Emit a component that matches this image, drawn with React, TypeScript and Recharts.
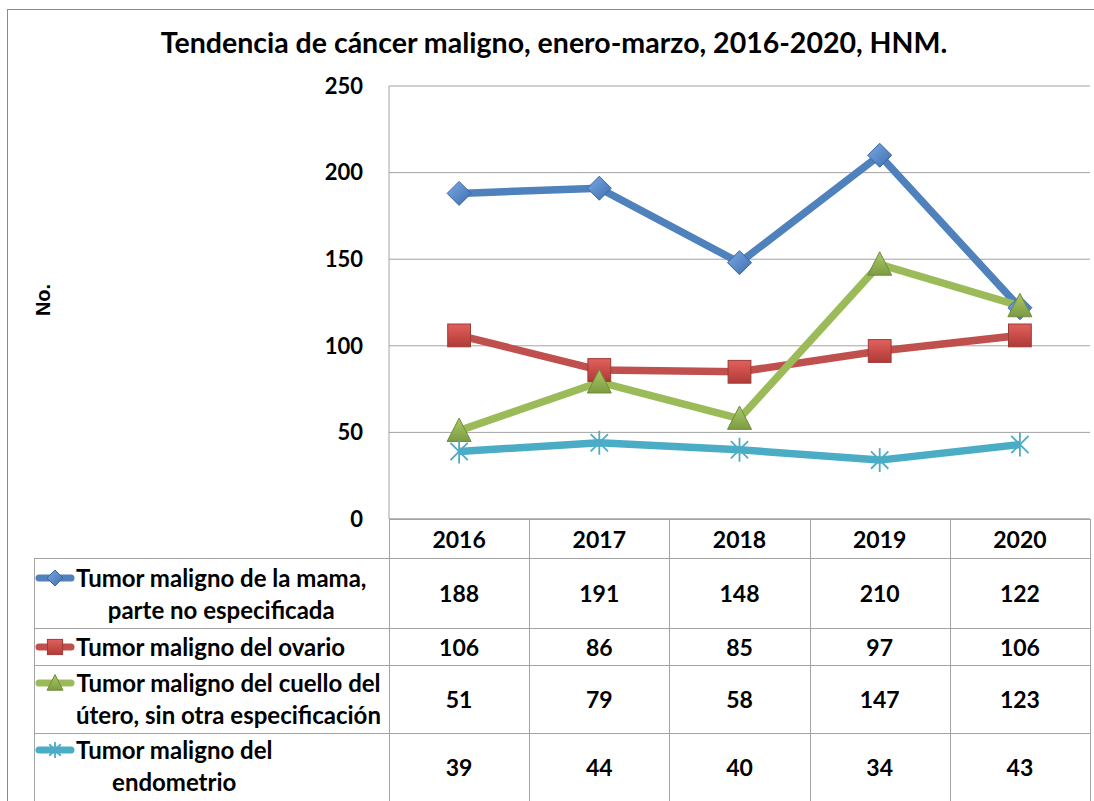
import React from 'react';
import { LineChart, Line, XAxis, YAxis, CartesianGrid } from 'recharts';

const years = ['2016', '2017', '2018', '2019', '2020'];
const mama = [188, 191, 148, 210, 122];
const ovario = [106, 86, 85, 97, 106];
const cuello = [51, 79, 58, 147, 123];
const endometrio = [39, 44, 40, 34, 43];
const yTicks = [0, 50, 100, 150, 200, 250];

const series = [
  { key: 'mama', values: mama, color: '#4f81bd', marker: 'diamond', label: ['Tumor maligno de la mama,', 'parte no especificada'] },
  { key: 'ovario', values: ovario, color: '#c0504d', marker: 'square', label: ['Tumor maligno del ovario'] },
  { key: 'cuello', values: cuello, color: '#9bbb59', marker: 'triangle', label: ['Tumor maligno del cuello del', 'útero, sin otra especificación'] },
  { key: 'endometrio', values: endometrio, color: '#4bacc6', marker: 'star', label: ['Tumor maligno del', 'endometrio'] },
];

const data = years.map((year, i) => {
  const row: Record<string, string | number> = { year };
  series.forEach((s) => { row[s.key] = s.values[i]; });
  return row;
});

// layout, page pixels
const PLOT_LEFT = 389;
const PLOT_RIGHT = 1090;
const PLOT_TOP = 86;
const PLOT_BOTTOM = 519;
const TABLE_LEFT = 34;
const rowEdges = [519, 558, 628, 665, 733, 801];
const colW = (PLOT_RIGHT - PLOT_LEFT) / years.length;
const GRID = '#a3a3a3';
const FONT = 'Lato, "Open Sans", sans-serif';

function Marker({ type, cx, cy, s }: { type: string; cx: number; cy: number; s: number }) {
  if (type === 'diamond') {
    return <polygon points={`${cx},${cy - s} ${cx + s},${cy} ${cx},${cy + s} ${cx - s},${cy}`} fill="url(#gBlue)" stroke="#3a679f" strokeWidth={1} />;
  }
  if (type === 'square') {
    const h = s * 0.95;
    return <rect x={cx - h} y={cy - h} width={h * 2} height={h * 2} fill="url(#gRed)" stroke="#9b3b38" strokeWidth={1} />;
  }
  if (type === 'triangle') {
    return <polygon points={`${cx},${cy - s * 1.05} ${cx + s},${cy + s * 0.9} ${cx - s},${cy + s * 0.9}`} fill="url(#gGreen)" stroke="#6f8c3c" strokeWidth={1} />;
  }
  const d = s * 0.72;
  return (
    <g stroke="#4bacc6" strokeWidth={1.8}>
      <line x1={cx} y1={cy - s} x2={cx} y2={cy + s} />
      <line x1={cx - d} y1={cy - d} x2={cx + d} y2={cy + d} />
      <line x1={cx - d} y1={cy + d} x2={cx + d} y2={cy - d} />
    </g>
  );
}

function YearTick(props: any) {
  const { x, y, payload } = props;
  return (
    <text x={x} y={y + 20} textAnchor="middle" dominantBaseline="central" fontFamily={FONT} fontWeight={700} fontSize={23} fill="#000">
      {payload.value}
    </text>
  );
}

function LegendIcon({ color, type }: { color: string; type: string }) {
  return (
    <svg width={40} height={20} style={{ position: 'absolute', left: 35, top: -10 }}>
      <line x1={4} y1={10} x2={36} y2={10} stroke={color} strokeWidth={7} strokeLinecap="round" />
      <Marker type={type} cx={20} cy={10} s={8} />
    </svg>
  );
}

const hLine = (y: number, x1: number, x2: number, k: string) => (
  <div key={k} style={{ position: 'absolute', left: x1, top: y, width: x2 - x1 + 1, height: 1, background: GRID }} />
);
const vLine = (x: number, y1: number, y2: number, k: string) => (
  <div key={k} style={{ position: 'absolute', left: x, top: y1, width: 1, height: y2 - y1, background: GRID }} />
);

const labelTops = [562, 631, 667, 734];

export default function App() {
  return (
    <div style={{ position: 'absolute', left: 0, top: 0, width: 1094, height: 801, overflow: 'hidden', background: '#fff', fontFamily: FONT }}>
      <svg width={0} height={0} style={{ position: 'absolute' }}>
        <defs>
          <linearGradient id="gBlue" x1="0" y1="0" x2="1" y2="1">
            <stop offset="0" stopColor="#7aaae6" />
            <stop offset="1" stopColor="#3d6dab" />
          </linearGradient>
          <linearGradient id="gRed" x1="0" y1="0" x2="0" y2="1">
            <stop offset="0" stopColor="#e2605c" />
            <stop offset="1" stopColor="#b03a37" />
          </linearGradient>
          <linearGradient id="gGreen" x1="0" y1="0" x2="0" y2="1">
            <stop offset="0" stopColor="#a9c96a" />
            <stop offset="1" stopColor="#7d9c40" />
          </linearGradient>
        </defs>
      </svg>

      <div style={{ position: 'absolute', left: 7, top: 9, width: 1200, height: 900, borderLeft: '1px solid #8a8a8a', borderTop: '1px solid #8a8a8a' }} />

      <div style={{ position: 'absolute', left: 0, top: 25, width: 1108, textAlign: 'center', fontSize: 28.5, fontWeight: 700, color: '#000', lineHeight: '34px' }}>
        Tendencia de cáncer maligno, enero-marzo, 2016-2020, HNM.
      </div>

      <div style={{ position: 'absolute', left: 43, top: 300, transform: 'translate(-50%, -50%) rotate(-90deg)', fontFamily: '"Liberation Sans", Arial, sans-serif', fontWeight: 700, fontSize: 20, color: '#000', whiteSpace: 'nowrap' }}>
        No.
      </div>

      <div style={{ position: 'absolute', left: 0, top: 0 }}>
        <LineChart width={1094} height={rowEdges[1]} data={data} margin={{ top: PLOT_TOP, right: 1094 - PLOT_RIGHT, left: PLOT_LEFT - 60, bottom: 0 }}>
          <CartesianGrid vertical={false} stroke={GRID} />
          <XAxis dataKey="year" height={rowEdges[1] - PLOT_BOTTOM} padding={{ left: colW / 2, right: colW / 2 }} axisLine={{ stroke: GRID }} tickLine={false} tickSize={0} tickMargin={0} interval={0} tick={<YearTick />} />
          <YAxis width={60} domain={[0, 250]} ticks={yTicks} interval={0} axisLine={{ stroke: GRID }} tickLine={false} tickSize={0} tickMargin={26}
            tick={{ fill: '#000', fontSize: 22, fontWeight: 700, fontFamily: FONT }} />
          {series.map((s) => (
            <Line key={s.key} dataKey={s.key} stroke={s.color} strokeWidth={7.5} strokeLinejoin="round" isAnimationActive={false}
              dot={(p: any) => <Marker key={`${s.key}-${p.index}`} type={s.marker} cx={p.cx} cy={p.cy} s={12} />} activeDot={false} />
          ))}
        </LineChart>
      </div>

      {/* data table */}
      {hLine(rowEdges[0], PLOT_LEFT, PLOT_RIGHT, 'h0')}
      {rowEdges.slice(1, 5).map((y, i) => hLine(y, TABLE_LEFT, PLOT_RIGHT, `h${i + 1}`))}
      {vLine(TABLE_LEFT, rowEdges[1], 801, 'v0')}
      {years.map((_, i) => vLine(PLOT_LEFT + colW * i, rowEdges[0], 801, `vc${i}`))}
      {vLine(PLOT_RIGHT, rowEdges[0], 801, 'vr')}

      {series.map((s, r) => (
        <React.Fragment key={s.key}>
          <div style={{ position: 'absolute', left: 0, top: labelTops[r] + 16, width: 0, height: 0 }}>
            <LegendIcon color={s.color} type={s.marker} />
          </div>
          <div style={{ position: 'absolute', left: 76, top: labelTops[r], display: 'inline-block', textAlign: 'center', fontSize: 24, fontWeight: 700, lineHeight: '32px', whiteSpace: 'nowrap', color: '#000' }}>
            {s.label.map((l, j) => (<div key={j}>{l}</div>))}
          </div>
          {s.values.map((v, i) => (
            <div key={i} style={{ position: 'absolute', left: PLOT_LEFT + colW * i, top: rowEdges[r + 1], width: colW, height: rowEdges[r + 2] - rowEdges[r + 1], display: 'flex', alignItems: 'center', justifyContent: 'center', fontSize: 23, fontWeight: 700, color: '#000' }}>
              {v}
            </div>
          ))}
        </React.Fragment>
      ))}
    </div>
  );
}
